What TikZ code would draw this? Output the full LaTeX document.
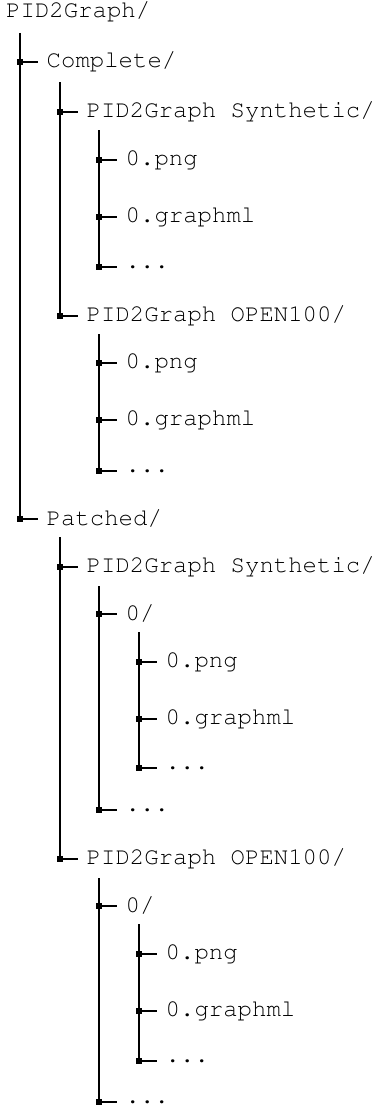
\documentclass[tikz,border=0pt]{standalone}
\usepackage[T1]{fontenc}
\usepackage{courier}
\begin{document}
\begin{tikzpicture}[x=1pt,y=-1pt,
  branch/.style={line width=1.2pt,black},
  junc/.style={rectangle,fill=black,minimum size=6.5pt,inner sep=0pt},
  entry/.style={anchor=west,inner xsep=8.5pt,inner ysep=0pt,
    font=\ttfamily\fontsize{24}{28}\selectfont}]
\useasboundingbox (0,0) rectangle (374,1108);

% root folder
\node[entry] (root) at (-2.5,12) {PID2Graph/};

% ---- level 0: x = 20
\coordinate (t-root) at (20,33);
\node[junc] (j-complete) at (20,62) {};
\node[entry] (complete) at (38,62) {Complete/};
\node[junc] (j-patched) at (20,519) {};
\node[entry] (patched) at (38,519) {Patched/};
\draw[branch] (t-root) -- (j-patched.center);
\draw[branch] (j-complete.center) -- (complete.west);
\draw[branch] (j-patched.center) -- (patched.west);

% ---- Complete/ children: x = 60
\coordinate (t-complete) at (60,82);
\node[junc] (j-cs) at (60,112) {};
\node[entry] (cs) at (78,112) {PID2Graph Synthetic/};
\node[junc] (j-co) at (60,316) {};
\node[entry] (co) at (78,316) {PID2Graph OPEN100/};
\draw[branch] (t-complete) -- (j-co.center);
\draw[branch] (j-cs.center) -- (cs.west);
\draw[branch] (j-co.center) -- (co.west);

% Complete/Synthetic files: x = 99
\coordinate (t-cs) at (99,130);
\node[junc] (j-cs1) at (99,160) {};
\node[entry] (cs1) at (117,160) {0.png};
\node[junc] (j-cs2) at (99,217) {};
\node[entry] (cs2) at (117,217) {0.graphml};
\node[junc] (j-cs3) at (99,267) {};
\node[entry] (cs3) at (117,267) {...};
\draw[branch] (t-cs) -- (j-cs3.center);
\draw[branch] (j-cs1.center) -- (cs1.west);
\draw[branch] (j-cs2.center) -- (cs2.west);
\draw[branch] (j-cs3.center) -- (cs3.west);

% Complete/OPEN100 files: x = 99
\coordinate (t-co) at (99,334);
\node[junc] (j-co1) at (99,363) {};
\node[entry] (co1) at (117,363) {0.png};
\node[junc] (j-co2) at (99,420) {};
\node[entry] (co2) at (117,420) {0.graphml};
\node[junc] (j-co3) at (99,471) {};
\node[entry] (co3) at (117,471) {...};
\draw[branch] (t-co) -- (j-co3.center);
\draw[branch] (j-co1.center) -- (co1.west);
\draw[branch] (j-co2.center) -- (co2.west);
\draw[branch] (j-co3.center) -- (co3.west);

% ---- Patched/ children: x = 60
\coordinate (t-patched) at (60,537);
\node[junc] (j-ps) at (60,567) {};
\node[entry] (ps) at (78,567) {PID2Graph Synthetic/};
\node[junc] (j-po) at (60,859) {};
\node[entry] (po) at (78,859) {PID2Graph OPEN100/};
\draw[branch] (t-patched) -- (j-po.center);
\draw[branch] (j-ps.center) -- (ps.west);
\draw[branch] (j-po.center) -- (po.west);

% Patched/Synthetic: x = 99
\coordinate (t-ps) at (99,586);
\node[junc] (j-ps0) at (99,614) {};
\node[entry] (ps0) at (117,614) {0/};
\node[junc] (j-psm) at (99,810) {};
\node[entry] (psm) at (117,810) {...};
\draw[branch] (t-ps) -- (j-psm.center);
\draw[branch] (j-ps0.center) -- (ps0.west);
\draw[branch] (j-psm.center) -- (psm.west);

% Patched/Synthetic/0 files: x = 139
\coordinate (t-ps0) at (139,632);
\node[junc] (j-ps01) at (139,662) {};
\node[entry] (ps01) at (157,662) {0.png};
\node[junc] (j-ps02) at (139,719) {};
\node[entry] (ps02) at (157,719) {0.graphml};
\node[junc] (j-ps03) at (139,768) {};
\node[entry] (ps03) at (157,768) {...};
\draw[branch] (t-ps0) -- (j-ps03.center);
\draw[branch] (j-ps01.center) -- (ps01.west);
\draw[branch] (j-ps02.center) -- (ps02.west);
\draw[branch] (j-ps03.center) -- (ps03.west);

% Patched/OPEN100: x = 99
\coordinate (t-po) at (99,878);
\node[junc] (j-po0) at (99,906) {};
\node[entry] (po0) at (117,906) {0/};
\node[junc] (j-pom) at (99,1102) {};
\node[entry] (pom) at (117,1102) {...};
\draw[branch] (t-po) -- (j-pom.center);
\draw[branch] (j-po0.center) -- (po0.west);
\draw[branch] (j-pom.center) -- (pom.west);

% Patched/OPEN100/0 files: x = 139
\coordinate (t-po0) at (139,924);
\node[junc] (j-po01) at (139,954) {};
\node[entry] (po01) at (157,954) {0.png};
\node[junc] (j-po02) at (139,1011) {};
\node[entry] (po02) at (157,1011) {0.graphml};
\node[junc] (j-po03) at (139,1061) {};
\node[entry] (po03) at (157,1061) {...};
\draw[branch] (t-po0) -- (j-po03.center);
\draw[branch] (j-po01.center) -- (po01.west);
\draw[branch] (j-po02.center) -- (po02.west);
\draw[branch] (j-po03.center) -- (po03.west);
\end{tikzpicture}
\end{document}
